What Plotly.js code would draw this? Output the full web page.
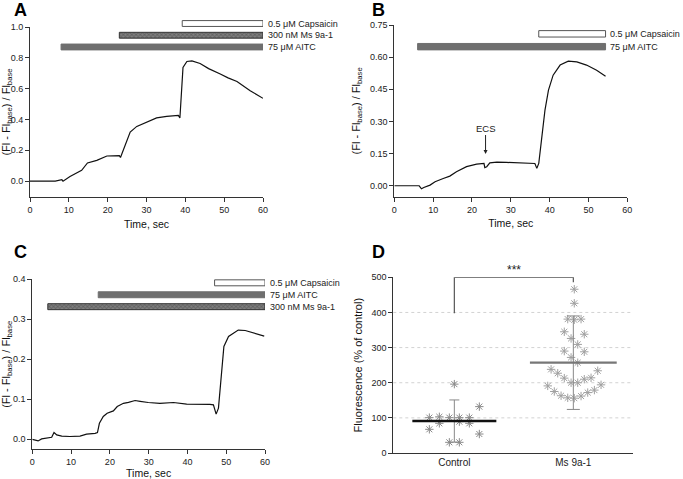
<!DOCTYPE html>
<html>
<head>
<meta charset="utf-8">
<script src="https://cdn.plot.ly/plotly-3.0.1.min.js"></script>
<style>html,body{margin:0;padding:0;background:#fff}</style>
</head>
<body>
<div id="graph" style="width:683px;height:479px"></div>
<script>
// panel A trace
const tA = [0, 6.5, 8.2, 8.5, 10.3, 13.3, 14.8, 17.2, 19.8, 23.0, 23.3, 24.1, 25.8, 27.5, 30.1, 32.6, 35.2, 38.2, 38.6, 39.0, 39.4, 40.4, 41.7, 43.8, 46.0, 49.0, 51.0, 53.3, 56.7, 60];
const yA = [0, 0, 0.01, 0, 0.03, 0.07, 0.118, 0.135, 0.163, 0.165, 0.153, 0.21, 0.318, 0.355, 0.383, 0.41, 0.42, 0.426, 0.41, 0.58, 0.737, 0.776, 0.78, 0.763, 0.73, 0.695, 0.67, 0.647, 0.587, 0.537];

// panel B trace
const tB = [0, 6.4, 7.0, 7.6, 9.2, 10.5, 12.6, 14.3, 16.0, 18.6, 21.2, 23.1, 23.3, 23.8, 24.6, 26.4, 28.9, 32.4, 36.2, 36.7, 37.2, 37.9, 38.8, 39.7, 40.9, 42.7, 44.8, 47.0, 49.5, 52.1, 54.4];
const yB = [0, 0, -0.014, -0.008, 0.003, 0.019, 0.034, 0.045, 0.065, 0.089, 0.101, 0.104, 0.085, 0.089, 0.107, 0.11, 0.109, 0.106, 0.104, 0.081, 0.104, 0.213, 0.353, 0.446, 0.516, 0.563, 0.581, 0.578, 0.563, 0.539, 0.511];

// panel C trace
const tC = [0, 0.7, 1.5, 2.4, 3.7, 5.0, 5.6, 6.3, 7.6, 9.7, 12.3, 14.0, 16.2, 16.8, 17.3, 18.3, 19.3, 20.9, 21.9, 23.5, 24.8, 26.5, 27.8, 29.9, 32.9, 36.4, 39.8, 43.2, 45.8, 46.7, 47.1, 47.4, 48.0, 48.4, 48.8, 49.4, 50.6, 51.8, 53.1, 54.9, 56.6, 58.3, 59.8];
const yC = [0, -0.002, -0.004, 0.001, 0.003, 0.005, 0.017, 0.011, 0.008, 0.007, 0.008, 0.013, 0.015, 0.017, 0.04, 0.057, 0.065, 0.071, 0.082, 0.09, 0.0925, 0.097, 0.095, 0.092, 0.09, 0.092, 0.088, 0.088, 0.0875, 0.086, 0.073, 0.063, 0.078, 0.123, 0.182, 0.232, 0.257, 0.265, 0.273, 0.272, 0.267, 0.2625, 0.258];

// application bars (bottom row first)
const barsA = ["75 μM AITC", "300 nM Ms 9a-1", "0.5 μM Capsaicin"];
const barsAStart = [8, 23, 39.2];
const barsAEnd = [60, 60, 60];
const barsB = ["75 μM AITC", "0.5 μM Capsaicin"];
const barsBStart = [6, 37.2];
const barsBEnd = [54.4, 54.4];
const barsC = ["300 nM Ms 9a-1", "75 μM AITC", "0.5 μM Capsaicin"];
const barsCStart = [4, 17, 47];
const barsCEnd = [60, 60, 60];

// panel D
const groups = ["Control", "Ms 9a-1"];
const ctrlVals = [100.6, 103, 100.6, 100.6, 100.6, 67.4, 84.4, 89.2, 84.4, 196, 132, 54, 30.4, 30.4];
const ctrlJitter = [-0.21, -0.126, -0.042, 0.042, 0.126, -0.21, -0.126, 0.042, 0.126, 0, 0.21, 0.21, -0.042, 0.042];
const msVals = [466, 426, 381, 379, 381, 345, 338, 326, 309, 290, 288, 272, 257, 238, 227, 213, 200, 200, 210, 214, 234, 191, 175, 163, 157, 156, 162, 172, 179, 194];
const msJitter = [0.008, 0.008, -0.047, 0.008, 0.065, -0.076, 0.092, -0.019, 0.037, -0.076, 0.092, -0.019, 0.037, -0.187, -0.131, -0.076, -0.019, 0.037, 0.092, 0.149, 0.205, -0.215, -0.16, -0.103, -0.047, 0.008, 0.065, 0.121, 0.177, 0.233];
const means = [91, 257];
const sds = [60, 133];
const bracketY = [398, 500, 500, 486];
const gridVals = [100, 200, 300, 400];

const W = 683, H = 479;
const fx = p => p / W;
const fy = p => 1 - p / H;
const FONT = "Liberation Sans, Arial, sans-serif";
const tickFont = { family: FONT, size: 9, color: "#222" };
const titleFont = { family: FONT, size: 10.5, color: "#111" };
const labelFont = { family: FONT, size: 9, color: "#222" };

function lineTrace(t, y, xa, ya) {
    return { x: t, y: y, xaxis: xa, yaxis: ya, type: "scatter", mode: "lines",
        line: { color: "#111", width: 1.2 }, showlegend: false, hoverinfo: "skip" };
}

const styleOf = {
    "75 μM AITC": { color: "#6f6f6f", line: "#6f6f6f", shape: "" },
    "300 nM Ms 9a-1": { color: "#808080", line: "#333", shape: "x" },
    "0.5 μM Capsaicin": { color: "#ffffff", line: "#555", shape: "" }
};

function barTrace(names, starts, ends, xa, ya) {
    return {
        type: "bar", orientation: "h", xaxis: xa, yaxis: ya,
        y: names.map((n, i) => i),
        base: starts,
        x: ends.map((e, i) => e - starts[i]),
        width: 0.5,
        marker: {
            color: names.map(n => styleOf[n].color),
            line: { color: names.map(n => styleOf[n].line), width: 1 },
            pattern: { shape: names.map(n => styleOf[n].shape), fillmode: "overlay", size: 3, solidity: 0.5, fgcolor: "#1a1a1a" }
        },
        showlegend: false, hoverinfo: "skip"
    };
}

function barLabels(names, ends, xa, ya, shift) {
    return names.map((n, i) => ({
        xref: xa, yref: ya, x: ends[i], y: i, text: n, showarrow: false,
        xanchor: "left", yanchor: "middle", xshift: shift, font: labelFont
    }));
}

const data = [
    lineTrace(tA, yA, "x", "y"),
    lineTrace(tB, yB, "x2", "y2"),
    lineTrace(tC, yC, "x3", "y3"),
    barTrace(barsA, barsAStart, barsAEnd, "x", "y5"),
    barTrace(barsB, barsBStart, barsBEnd, "x2", "y6"),
    barTrace(barsC, barsCStart, barsCEnd, "x3", "y7"),
    // bracket
    { x: [0, 0, 1, 1], y: bracketY, xaxis: "x4", yaxis: "y4", type: "scatter", mode: "lines",
      line: { color: "#555", width: 1.2 }, cliponaxis: false, showlegend: false, hoverinfo: "skip" },
    // points
    { x: ctrlJitter, y: ctrlVals, xaxis: "x4", yaxis: "y4", type: "scatter", mode: "markers",
      marker: { symbol: "asterisk-open", size: 7, color: "#8a8a8a", line: { color: "#8a8a8a", width: 1 } }, showlegend: false, hoverinfo: "skip" },
    { x: msJitter.map(d => 1 + d), y: msVals, xaxis: "x4", yaxis: "y4", type: "scatter", mode: "markers",
      marker: { symbol: "asterisk-open", size: 7, color: "#a0a0a0", line: { color: "#a0a0a0", width: 1 } }, showlegend: false, hoverinfo: "skip" },
    // mean + SD
    { x: [0], y: [means[0]], xaxis: "x4", yaxis: "y4", type: "scatter", mode: "markers",
      marker: { symbol: "line-ew", size: 60, color: "#111", line: { color: "#111", width: 2.5 } },
      error_y: { type: "data", array: [sds[0]], color: "#888", thickness: 1, width: 5 }, showlegend: false, hoverinfo: "skip" },
    { x: [1], y: [means[1]], xaxis: "x4", yaxis: "y4", type: "scatter", mode: "markers",
      marker: { symbol: "line-ew", size: 62, color: "#777", line: { color: "#777", width: 2.2 } },
      error_y: { type: "data", array: [sds[1]], color: "#888", thickness: 1, width: 6.5 }, showlegend: false, hoverinfo: "skip" }
];

function xAxis(dom, anchor) {
    return {
        domain: dom, anchor: anchor, range: [0, 60], dtick: 10, showline: true, linecolor: "#333", linewidth: 1,
        ticks: "outside", ticklen: 4, tickcolor: "#333", showgrid: false, zeroline: false, tickfont: tickFont,
        title: { text: "Time, sec", font: titleFont, standoff: 6 }
    };
}
function yAxis(dom, anchor, range, dtick, fmt) {
    return {
        domain: dom, anchor: anchor, range: range, dtick: dtick, tick0: 0, tickformat: fmt,
        showline: true, linecolor: "#333", linewidth: 1, ticks: "outside", ticklen: 4, tickcolor: "#333",
        showgrid: false, zeroline: false, tickfont: tickFont,
        title: { text: "(Fl - Fl<sub>base</sub>) / Fl<sub>base</sub>", font: { family: FONT, size: 11, color: "#111" }, standoff: 7 }
    };
}
function barAxis(dom, anchor, n) {
    return { domain: dom, anchor: anchor, range: [-0.5, n - 0.5], visible: false, fixedrange: true };
}

const shapes = gridVals.map(v => ({
    type: "line", xref: "x4 domain", yref: "y4", x0: 0, x1: 1, y0: v, y1: v,
    line: { color: "#d2d2d2", width: 1, dash: "dot" }, layer: "below"
}));

const letter = (txt, px, py) => ({
    xref: "paper", yref: "paper", x: fx(px), y: fy(py), text: "<b>" + txt + "</b>", showarrow: false,
    xanchor: "left", yanchor: "top", font: { family: FONT, size: 18, color: "#000" }
});

const annotations = [
    letter("A", 12, -2), letter("B", 370, -2), letter("C", 12, 240), letter("D", 370, 240),
    ...barLabels(barsA, barsAEnd, "x", "y5", 3),
    ...barLabels(barsB, barsBEnd, "x2", "y6", 2),
    ...barLabels(barsC, barsCEnd, "x3", "y7", 3),
    { xref: "x2", yref: "y2", x: 23.5, y: 0.148, text: "ECS", showarrow: true, arrowhead: 2, arrowsize: 0.8,
      arrowwidth: 1, arrowcolor: "#222", ax: 0, ay: -26, font: { family: FONT, size: 9.5, color: "#222" } },
    { xref: "x4", yref: "y4", x: 0.5, y: 500, text: "***", showarrow: false, yanchor: "bottom", yshift: -2,
      font: { family: FONT, size: 12, color: "#222" } }
];

const layout = {
    width: W, height: H, autosize: false,
    margin: { l: 0, r: 0, t: 0, b: 0 },
    paper_bgcolor: "#fff", plot_bgcolor: "rgba(0,0,0,0)",
    showlegend: false,
    xaxis: xAxis([fx(30), fx(263)], "y"),
    yaxis: yAxis([fy(197), fy(27)], "x", [-0.103, 1.0], 0.2, ".1f"),
    xaxis2: xAxis([fx(394.3), fx(627.3)], "y2"),
    yaxis2: yAxis([fy(196.7), fy(25)], "x2", [-0.051, 0.75], 0.15, ".2f"),
    xaxis3: xAxis([fx(32.3), fx(265)], "y3"),
    yaxis3: yAxis([fy(449.3), fy(279.3)], "x3", [-0.025, 0.4], 0.1, ".1f"),
    xaxis4: {
        domain: [fx(393.3), fx(633.3)], anchor: "y4", range: [-0.513, 1.504], tickvals: [0, 1], ticktext: groups,
        showline: true, linecolor: "#333", linewidth: 1, ticks: "", showgrid: false, zeroline: false,
        tickfont: { family: FONT, size: 10, color: "#222" }
    },
    yaxis4: {
        domain: [fy(453), fy(277.3)], anchor: "x4", range: [0, 500], dtick: 100,
        showline: true, linecolor: "#333", linewidth: 1, ticks: "outside", ticklen: 4, tickcolor: "#333",
        showgrid: false, zeroline: false, tickfont: tickFont,
        title: { text: "Fluorescence (% of control)", font: { family: FONT, size: 11, color: "#111" }, standoff: 6 }
    },
    yaxis5: barAxis([fy(52.85), fy(17.65)], "x", 3),
    yaxis6: barAxis([fy(53.1), fy(27.4)], "x2", 2),
    yaxis7: barAxis([fy(312.65), fy(276.85)], "x3", 3),
    shapes: shapes,
    annotations: annotations
};

Plotly.newPlot("graph", data, layout, { staticPlot: true, displayModeBar: false });
</script>
</body>
</html>
